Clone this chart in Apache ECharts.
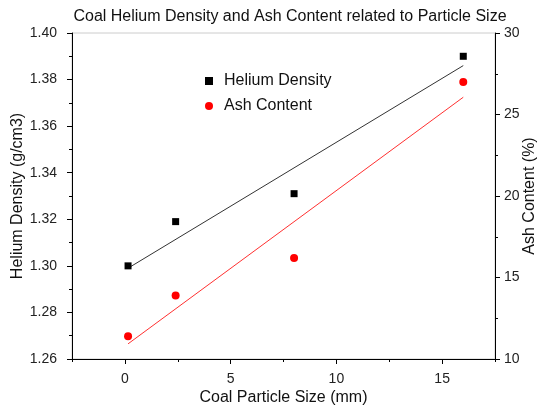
<!DOCTYPE html>
<html>
<head>
<meta charset="utf-8">
<script src="https://cdn.jsdelivr.net/npm/echarts@6/dist/echarts.min.js"></script>
<style>
  html, body { margin: 0; padding: 0; background: #fff; }
  #chart { width: 538px; height: 406px; }
</style>
</head>
<body>
<div id="chart"></div>
<script>
// particle size (mm) of each sample
var sizes = [0.15, 2.4, 8, 16];
var heliumDensity = [1.300, 1.319, 1.331, 1.390];
var ashContent = [11.4, 13.9, 16.2, 27.0];

// linear fit endpoints
var fitSizes = [0.15, 16];
var heliumFit = [1.299, 1.386];
var ashFit = [10.93, 26.06];

var font = 'Arial, "Liberation Sans", sans-serif';

function pairs(xs, ys) {
  return xs.map(function (x, i) { return [x, ys[i]]; });
}

var chart = echarts.init(document.getElementById('chart'));

var nameStyle = { fontFamily: font, fontSize: 16, color: '#111' };
var labelStyle = { fontFamily: font, fontSize: 14, color: '#222' };

var option = {
  animation: false,
  backgroundColor: '#fff',
  title: {
    text: 'Coal Helium Density and Ash Content related to Particle Size',
    left: 285,
    textAlign: 'center',
    top: 4,
    textStyle: { fontFamily: font, fontSize: 16, fontWeight: 'normal', color: '#111' }
  },
  legend: {
    data: ['Helium Density', 'Ash Content'],
    orient: 'vertical',
    left: 200,
    top: 68,
    itemWidth: 8,
    itemHeight: 8,
    itemGap: 9,
    textStyle: { fontFamily: font, fontSize: 16, color: '#111', padding: [0, 0, 0, 6] }
  },
  grid: {
    left: 72, right: 43, top: 33, bottom: 47,
    outerBoundsMode: 'none',
    show: true, borderColor: '#ccc', borderWidth: 1
  },
  xAxis: [
    {
      type: 'value',
      min: -2.5,
      max: 17.5,
      position: 'bottom',
      name: 'Coal Particle Size (mm)',
      nameLocation: 'middle',
      nameGap: 31,
      nameMoveOverlap: false,
      nameTextStyle: nameStyle,
      axisLine: { show: true, onZero: false, lineStyle: { color: '#000', width: 1 } },
      axisTick: { show: true, inside: false, length: 5, lineStyle: { color: '#000', width: 1 } },
      splitLine: { show: false },
      axisLabel: Object.assign({ margin: 13, showMinLabel: false, showMaxLabel: false }, labelStyle)
    },
    // half-step ticks between the labelled ones
    {
      type: 'value',
      min: -2.5,
      max: 17.5,
      interval: 2.5,
      position: 'bottom',
      offset: 0,
      axisLine: { show: false, onZero: false },
      axisTick: { show: true, inside: false, length: 3, lineStyle: { color: '#000', width: 1 } },
      axisLabel: { show: false },
      splitLine: { show: false }
    }
  ],
  yAxis: [
    {
      type: 'value',
      min: 1.26,
      max: 1.40,
      interval: 0.02,
      position: 'left',
      name: 'Helium Density (g/cm3)',
      nameLocation: 'middle',
      nameGap: 46,
      nameMoveOverlap: false,
      nameTextStyle: nameStyle,
      axisLine: { show: true, onZero: false, lineStyle: { color: '#000', width: 1 } },
      axisTick: { show: true, length: 5, lineStyle: { color: '#000', width: 1 } },
      minorTick: { show: true, splitNumber: 2, length: 3, lineStyle: { color: '#000', width: 1 } },
      splitLine: { show: false },
      axisLabel: Object.assign({
        margin: 15,
        formatter: function (v) { return v.toFixed(2); }
      }, labelStyle)
    },
    {
      type: 'value',
      min: 10,
      max: 30,
      interval: 5,
      position: 'right',
      name: 'Ash Content (%)',
      nameLocation: 'middle',
      nameGap: 27,
      nameRotate: 90,
      nameMoveOverlap: false,
      nameTextStyle: nameStyle,
      axisLine: { show: true, onZero: false, lineStyle: { color: '#000', width: 1 } },
      axisTick: { show: true, length: 5, lineStyle: { color: '#000', width: 1 } },
      minorTick: { show: true, splitNumber: 2, length: 3, lineStyle: { color: '#000', width: 1 } },
      splitLine: { show: false },
      axisLabel: Object.assign({ margin: 9 }, labelStyle)
    }
  ],
  series: [
    {
      name: 'Helium Density',
      type: 'scatter',
      yAxisIndex: 0,
      symbol: 'rect',
      symbolSize: 7,
      itemStyle: { color: '#000', opacity: 1 },
      data: pairs(sizes, heliumDensity),
      z: 3
    },
    {
      name: 'Ash Content',
      type: 'scatter',
      yAxisIndex: 1,
      symbol: 'circle',
      symbolSize: 8,
      itemStyle: { color: '#f00', opacity: 1 },
      data: pairs(sizes, ashContent),
      z: 3
    },
    {
      name: 'Helium Fit',
      type: 'line',
      yAxisIndex: 0,
      showSymbol: false,
      symbol: 'none',
      lineStyle: { color: '#333', width: 1 },
      data: pairs(fitSizes, heliumFit)
    },
    {
      name: 'Ash Fit',
      type: 'line',
      yAxisIndex: 1,
      showSymbol: false,
      symbol: 'none',
      lineStyle: { color: '#ff3030', width: 1 },
      data: pairs(fitSizes, ashFit)
    }
  ]
};

chart.setOption(option);
</script>
</body>
</html>
